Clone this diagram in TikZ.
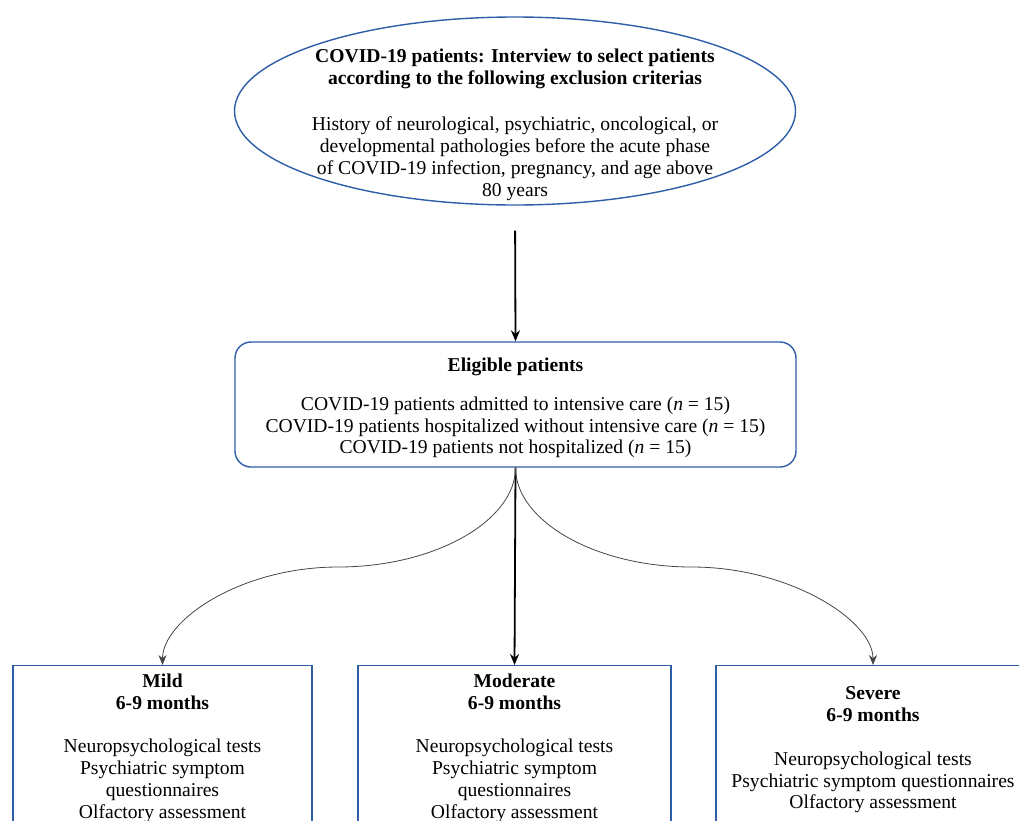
\documentclass[tikz,border=0pt]{standalone}
\usepackage{fontspec}
\setmainfont{Liberation Serif}
\usetikzlibrary{shapes.geometric,arrows.meta}
\definecolor{boxblue}{RGB}{47,94,168}
\definecolor{curvegray}{RGB}{70,70,70}
\begin{document}
\begin{tikzpicture}[x=1pt,y=-1pt,
  every node/.style={font=\fontsize{19.6}{21.8}\selectfont, align=center, inner sep=0pt},
  frame/.style={draw=boxblue, line width=1.4pt},
  mainarrow/.style={-{Stealth[length=11pt,width=9pt]}, line width=1.8pt},
  curvearrow/.style={-{Stealth[length=10pt,width=8pt]}, line width=0.8pt, draw=curvegray, fill=none},
]
\fill[white] (0,0) rectangle (1019,820);
\clip (0,0) rectangle (1019,820);

% top ellipse
\node[ellipse, frame, minimum width=561pt, minimum height=188pt] (sel) at (515,111) {};
\node (seltxt) at (515,124.5) {\textbf{COVID-19 patients: Interview to select patients}\\[1pt]
  \textbf{according to the following exclusion criterias}\\[24pt]
  History of neurological, psychiatric, oncological, or\\
  developmental pathologies before the acute phase\\
  of COVID-19 infection, pregnancy, and age above\\
  80 years};

% eligible box
\node[frame, rounded corners=16pt, minimum width=561pt, minimum height=125pt] (elig) at (515.5,404.5) {};
\node (eligtxt) at (515.5,408) {\textbf{Eligible patients}\\[17pt]
  COVID-19 patients admitted to intensive care (\textit{n} = 15)\\
  COVID-19 patients hospitalized without intensive care (\textit{n} = 15)\\
  COVID-19 patients not hospitalized (\textit{n} = 15)};

% bottom boxes
\node[frame, minimum width=299pt, minimum height=235pt, anchor=north] (mild) at (162.5,665) {};
\node[frame, minimum width=313pt, minimum height=235pt, anchor=north] (moder) at (514.5,665) {};
\node[frame, minimum width=314pt, minimum height=235pt, anchor=north] (sev) at (873,665) {};

\node (mildtxt) at (162.5,748) {\textbf{Mild}\\ \textbf{6-9 months}\\[21.8pt]
  Neuropsychological tests\\ Psychiatric symptom\\ questionnaires\\ Olfactory assessment};
\node (modertxt) at (514.5,748) {\textbf{Moderate}\\ \textbf{6-9 months}\\[21.8pt]
  Neuropsychological tests\\ Psychiatric symptom\\ questionnaires\\ Olfactory assessment};
\node (sevtxt) at (873,750) {\textbf{Severe}\\ \textbf{6-9 months}\\[21.8pt]
  Neuropsychological tests\\ Psychiatric symptom questionnaires\\ Olfactory assessment};

% connectors
\draw[mainarrow, shorten <=25pt] (sel.south) -- (elig.north);
\draw[mainarrow] (elig.south) -- (moder.north);
\coordinate (lbend) at (338,567);
\coordinate (rbend) at (692,567);
\draw[curvearrow] (elig.south) .. controls +(0,53) and (435,567) .. (lbend)
  .. controls (241,567) and (162.5,620) .. (mild.north);
\draw[curvearrow] (elig.south) .. controls +(0,53) and (595,567) .. (rbend)
  .. controls (789,567) and (873,620) .. (sev.north);
\end{tikzpicture}
\end{document}
